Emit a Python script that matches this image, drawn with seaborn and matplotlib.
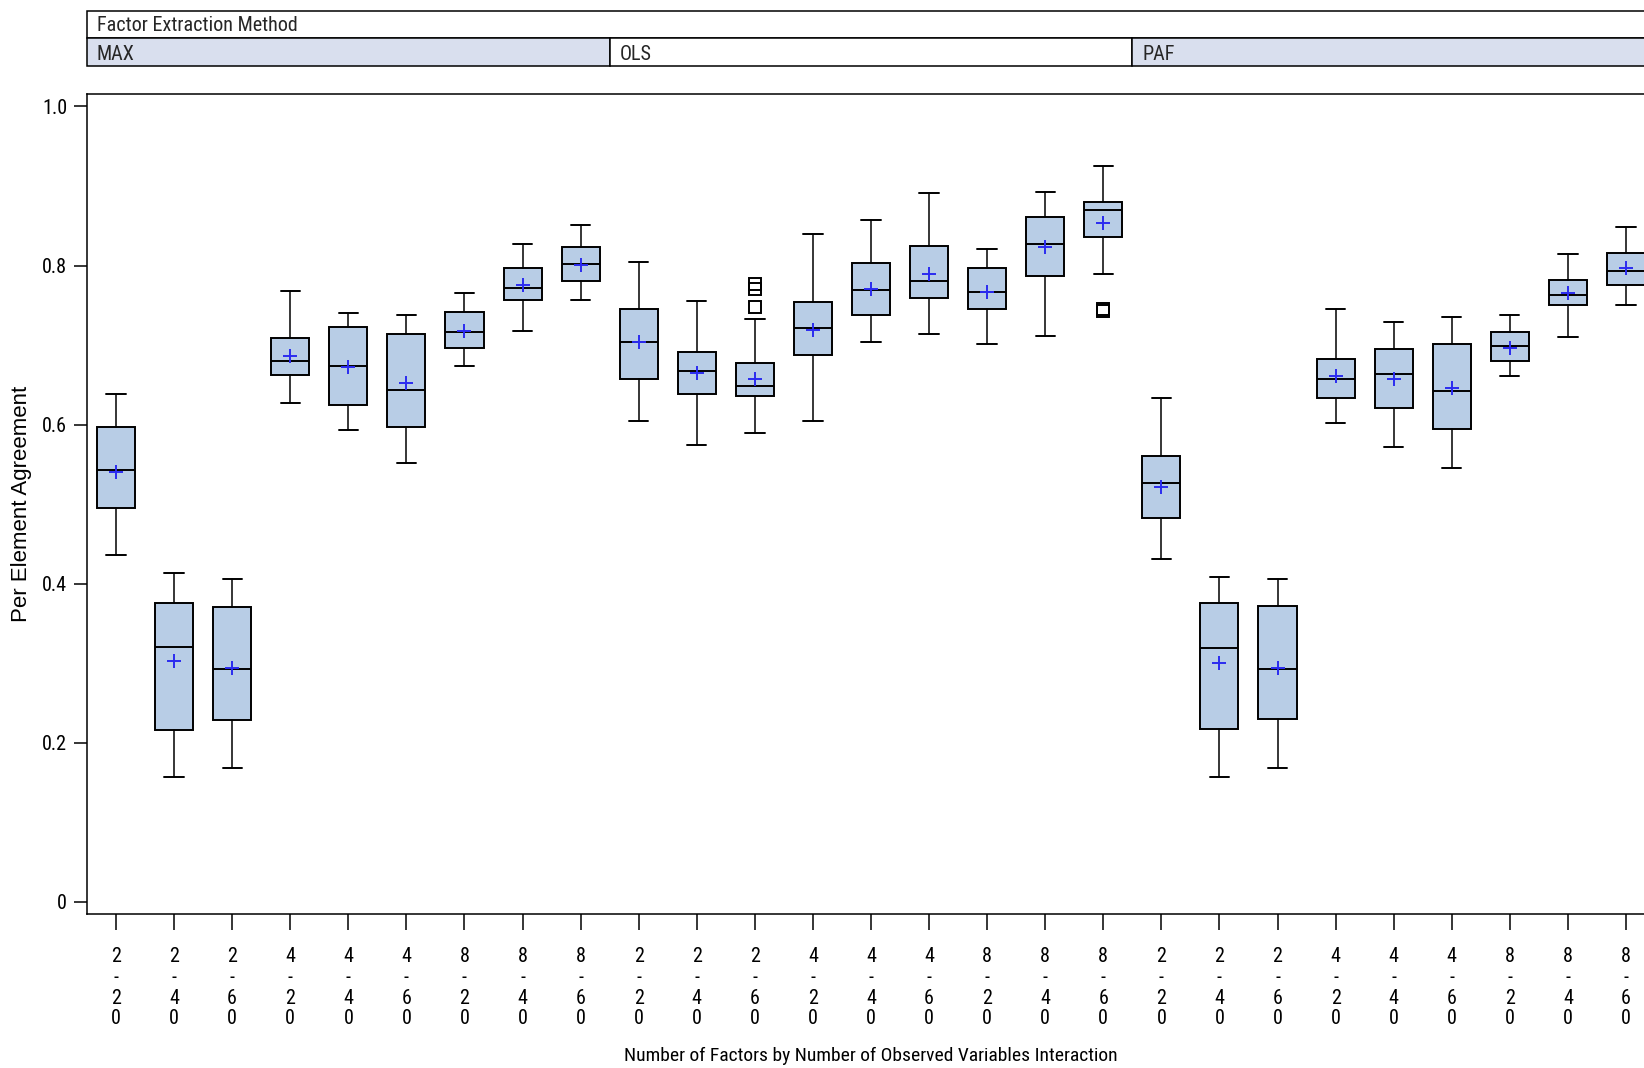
import matplotlib
matplotlib.use("Agg")
import matplotlib.pyplot as plt
from matplotlib import font_manager
from matplotlib.patches import Rectangle
import pandas as pd
import seaborn as sns

# Per Element Agreement by extraction method, number of factors and number of observed variables
methods = ["MAX", "OLS", "PAF"]
factors = [2, 2, 2, 4, 4, 4, 8, 8, 8]
variables = [20, 40, 60, 20, 40, 60, 20, 40, 60]

whisker_low = [0.436, 0.157, 0.168, 0.627, 0.593, 0.552, 0.674, 0.718, 0.757,
               0.604, 0.574, 0.589, 0.604, 0.704, 0.714, 0.702, 0.712, 0.789,
               0.431, 0.157, 0.168, 0.602, 0.572, 0.546, 0.661, 0.710, 0.751]
quartile_1 = [0.495, 0.216, 0.229, 0.663, 0.625, 0.597, 0.697, 0.757, 0.780,
              0.657, 0.638, 0.636, 0.687, 0.738, 0.759, 0.746, 0.787, 0.836,
              0.483, 0.217, 0.230, 0.633, 0.621, 0.595, 0.680, 0.750, 0.776]
median = [0.543, 0.321, 0.293, 0.680, 0.674, 0.644, 0.717, 0.772, 0.802,
          0.704, 0.668, 0.648, 0.721, 0.769, 0.780, 0.767, 0.827, 0.870,
          0.527, 0.319, 0.293, 0.657, 0.664, 0.642, 0.699, 0.763, 0.793]
mean = [0.541, 0.303, 0.294, 0.686, 0.673, 0.652, 0.718, 0.775, 0.801,
        0.704, 0.665, 0.658, 0.719, 0.771, 0.790, 0.767, 0.823, 0.854,
        0.522, 0.301, 0.294, 0.661, 0.658, 0.646, 0.697, 0.765, 0.797]
quartile_3 = [0.597, 0.376, 0.371, 0.709, 0.723, 0.714, 0.742, 0.797, 0.823,
              0.746, 0.691, 0.678, 0.754, 0.803, 0.825, 0.797, 0.861, 0.880,
              0.561, 0.376, 0.372, 0.682, 0.695, 0.702, 0.716, 0.782, 0.816]
whisker_high = [0.638, 0.413, 0.406, 0.768, 0.740, 0.738, 0.765, 0.827, 0.851,
                0.804, 0.755, 0.733, 0.840, 0.857, 0.891, 0.821, 0.893, 0.925,
                0.634, 0.408, 0.406, 0.746, 0.729, 0.735, 0.738, 0.814, 0.848]
outliers = {
    ("OLS", 2, 60): [0.748, 0.771, 0.777],
    ("OLS", 8, 60): [0.743, 0.746],
}

BOX_FILL = "#B8CDE6"
HEADER_FILL = "#D9DFEE"
MEAN_COLOR = "#2B2BF0"

sns.set_theme(style="ticks")

# Prefer a narrow sans face for the axis and header text when one is installed
narrow_file = None
for entry in font_manager.fontManager.ttflist:
    name = entry.name.lower()
    fname = entry.fname.lower()
    if entry.style == "normal" and entry.weight in (400, "normal", "regular") and (
        "narrow" in name or "condensed" in name or entry.stretch == "condensed"
        or "condensed" in fname or "narrow" in fname
    ):
        if "mono" in fname or "serif" in fname and "sans" not in fname:
            continue
        narrow_file = entry.fname
        if "liberation" in fname or "arial" in fname:
            break

if narrow_file:
    narrow_prop = dict(fname=narrow_file)
else:
    narrow_prop = dict(family="DejaVu Sans")
regular = ["Liberation Sans", "DejaVu Sans"]
plt.rcParams["font.family"] = regular


def nfont(size):
    return font_manager.FontProperties(size=size, **narrow_prop)


rows = []
for m in methods:
    for f, v in zip(factors, variables):
        rows.append({"method": m, "factors": f, "variables": v})
df = pd.DataFrame(rows)
df["pos"] = range(len(df))
df["whislo"] = whisker_low
df["q1"] = quartile_1
df["med"] = median
df["mean"] = mean
df["q3"] = quartile_3
df["whishi"] = whisker_high
df["label"] = [f"{f}\n-\n" + "\n".join(str(v)) for f, v in zip(df["factors"], df["variables"])]

W, H = 1644, 1068
fig = plt.figure(figsize=(W / 100, H / 100), dpi=100)
ax_left, ax_right, ax_top, ax_bottom = 87, 1655, 94.3, 914.3
ax = fig.add_axes([ax_left / W, 1 - ax_bottom / H, (ax_right - ax_left) / W, (ax_bottom - ax_top) / H])

stats = []
for _, r in df.iterrows():
    stats.append(dict(whislo=r.whislo, q1=r.q1, med=r.med, q3=r.q3, whishi=r.whishi,
                      mean=r["mean"], label=r.label,
                      fliers=outliers.get((r.method, r.factors, r.variables), [])))

ax.bxp(stats, positions=df["pos"], widths=0.655, capwidths=0.333, patch_artist=True,
       showmeans=False,
       boxprops=dict(facecolor=BOX_FILL, edgecolor="black", linewidth=1.4),
       medianprops=dict(color="black", linewidth=1.4),
       whiskerprops=dict(color="black", linewidth=1.1),
       capprops=dict(color="black", linewidth=1.4),
       flierprops=dict(marker="s", markerfacecolor="none", markeredgecolor="black",
                       markersize=8, markeredgewidth=1.4))

sns.scatterplot(data=df, x="pos", y="mean", marker="+", s=110, color=MEAN_COLOR,
                linewidth=1.4, ax=ax, zorder=5, legend=False)

ax.set_xlim(-0.5, len(df) - 0.5)
ax.set_ylim(-0.0155, 1.0153)
ax.set_xticks(df["pos"])
ax.set_xticklabels(df["label"], linespacing=1.12, fontproperties=nfont(14.5))
ax.set_yticks([0, 0.2, 0.4, 0.6, 0.8, 1.0])
ax.set_yticklabels(["0", "0.2", "0.4", "0.6", "0.8", "1.0"], fontproperties=nfont(14.5))
ax.tick_params(axis="x", length=11.5, width=1.1, pad=12, colors="black")
ax.tick_params(axis="y", length=9.4, width=1.1, pad=5, colors="black")
for side in ["left", "bottom", "top"]:
    ax.spines[side].set_color("black")
    ax.spines[side].set_linewidth(1.1)
ax.spines["right"].set_visible(False)

ax.set_xlabel("Number of Factors by Number of Observed Variables Interaction",
              fontproperties=nfont(14), color="black", va="center")
ax.xaxis.set_label_coords(0.5, (ax_bottom - 1056) / (ax_bottom - ax_top))
ax.set_ylabel("Per Element Agreement", fontsize=16, color="black", va="center")
ax.yaxis.set_label_coords((21 - ax_left) / (ax_right - ax_left), 0.5)

# Panel header for the extraction method
hx = fig.add_axes([ax_left / W, 1 - 66 / H, (ax_right - ax_left) / W, (66 - 10.5) / H])
hx.set_xlim(-0.5, len(df) - 0.5)
hx.set_ylim(0, 2)
hx.axis("off")
hx.add_patch(Rectangle((-0.5, 1), len(df), 1, facecolor="white", edgecolor="black",
                       linewidth=1.1, clip_on=False))
hx.text(-0.5 + 0.17, 1.45, "Factor Extraction Method", fontproperties=nfont(14.5),
        va="center", ha="left")
n_per = len(factors)
for i, m in enumerate(methods):
    x0 = -0.5 + i * n_per
    fill = "white" if m == "OLS" else HEADER_FILL
    hx.add_patch(Rectangle((x0, 0), n_per, 1, facecolor=fill, edgecolor="black",
                           linewidth=1.1, clip_on=False))
    hx.text(x0 + 0.17, 0.42, m, fontproperties=nfont(14.5), va="center", ha="left")

fig.savefig("out.png", dpi=100)
